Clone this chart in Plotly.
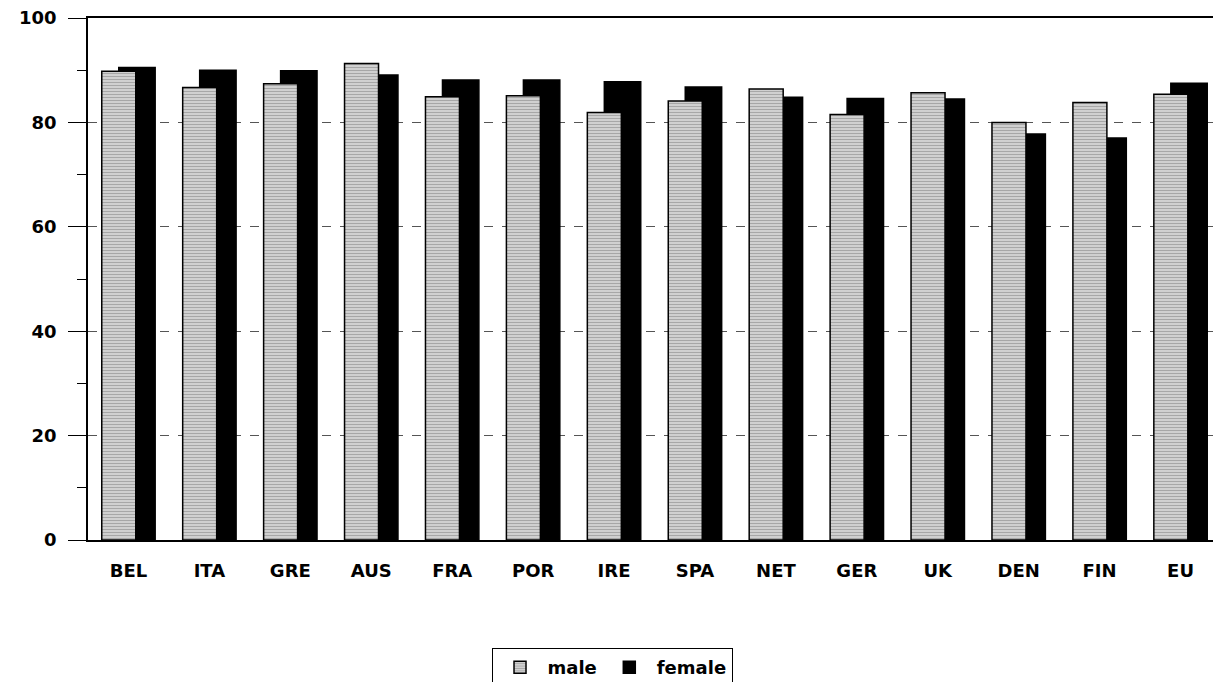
import plotly.graph_objects as go

categories = ["BEL", "ITA", "GRE", "AUS", "FRA", "POR", "IRE", "SPA", "NET", "GER", "UK", "DEN", "FIN", "EU"]
male = [89.8, 86.7, 87.4, 91.3, 84.9, 85.1, 81.9, 84.1, 86.4, 81.5, 85.7, 80.0, 83.8, 85.4]
female = [90.5, 90.0, 89.9, 89.1, 88.1, 88.1, 87.8, 86.8, 84.8, 84.6, 84.5, 77.8, 77.0, 87.5]
y_ticks = [0, 20, 40, 60, 80, 100]

TICKFONT = "DejaVu Sans"

fig = go.Figure()
fig.add_trace(go.Bar(
    x=categories, y=female, name="female",
    offset=-0.12, width=0.45,
    marker=dict(color="black", line=dict(color="black", width=1.5)),
    legendrank=2,
))
fig.add_trace(go.Bar(
    x=categories, y=male, name="male",
    offset=-0.33, width=0.42,
    marker=dict(
        color="#c0c0c0",
        line=dict(color="black", width=1.5),
        pattern=dict(shape="-", fgcolor="#707070", bgcolor="#dedede", size=3, solidity=0.5),
    ),
    legendrank=1,
))

fig.update_layout(
    width=1213, height=674,
    margin=dict(l=80, r=0, t=10, b=142, autoexpand=False),
    barmode="overlay",
    plot_bgcolor="white", paper_bgcolor="white",
    font=dict(family=TICKFONT, size=18, color="black", weight="bold"),
    legend=dict(
        orientation="h", x=0.4625, xanchor="center", y=-0.207, yanchor="top",
        bordercolor="black", borderwidth=1,
        font=dict(family=TICKFONT, size=18, weight="bold"),
        itemwidth=45,
    ),
    showlegend=True,
)
fig.update_xaxes(
    range=[-0.5, 13.5],
    showline=True, linecolor="black", linewidth=1.5, mirror=True,
    ticks="", showgrid=False,
    tickfont=dict(family=TICKFONT, size=18, weight="bold"),
    ticklabelstandoff=14,
    automargin=False,
)
fig.update_yaxes(
    range=[0, 100],
    tickvals=y_ticks,
    showline=True, linecolor="black", linewidth=1.5,
    ticks="outside", ticklen=18, tickcolor="black", tickwidth=1,
    minor=dict(dtick=10, ticks="outside", ticklen=9, tickcolor="black", tickwidth=1, showgrid=False),
    showgrid=True, gridcolor="#555555", griddash="dash", gridwidth=1,
    zeroline=False,
    tickfont=dict(family=TICKFONT, size=18, weight="bold"),
    ticklabelstandoff=8,
    ticklabeloverflow="allow",
    automargin=False,
)

fig.write_html("out.html")
